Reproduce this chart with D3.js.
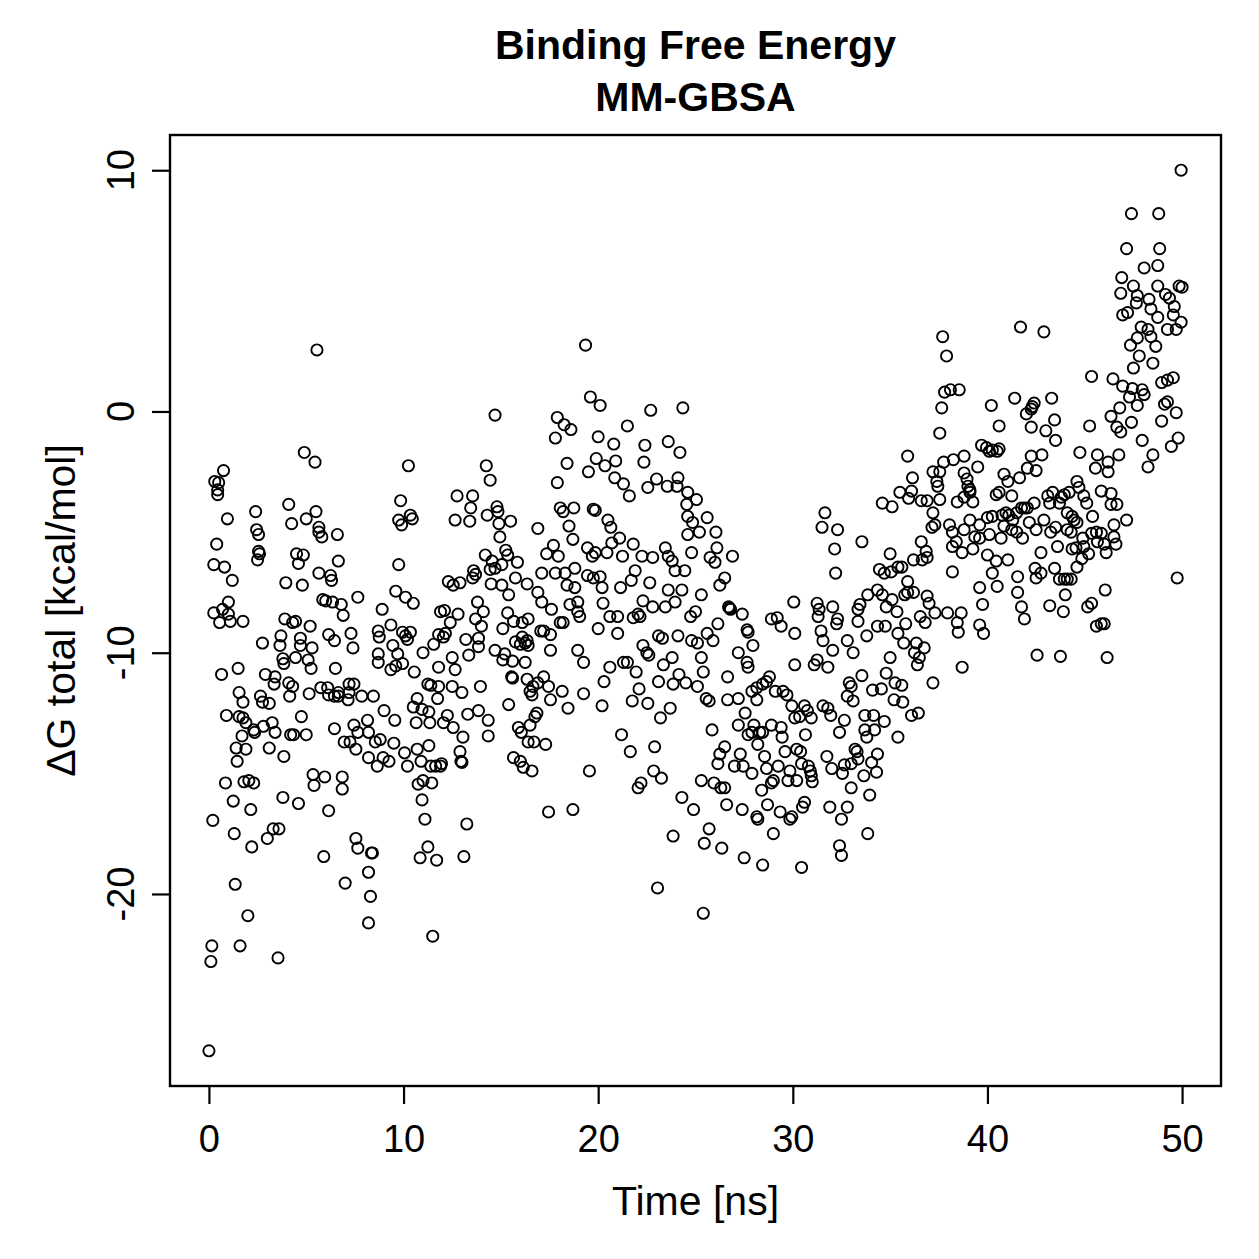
<!DOCTYPE html>
<html>
<head>
<meta charset="utf-8">
<script src="https://cdn.jsdelivr.net/npm/d3@7"></script>
<style>
  html, body { margin: 0; padding: 0; background: #fff; }
  text { font-family: "Liberation Sans", Arial, Helvetica, sans-serif; fill: #000; }
</style>
</head>
<body>
<div id="chart"></div>
<script>
// MM-GBSA: ΔG total pro Frame über die Simulationszeit (Streudiagramm, offene Kreise)

const TITLE_LINES = ["Binding Free Energy", "MM-GBSA"];
const X_LABEL = "Time [ns]";
const Y_LABEL = "ΔG total [kcal/mol]";
const X_TICKS = [0, 10, 20, 30, 40, 50];
const Y_TICKS = [-20, -10, 0, 10];

// [Zeit (ns), ΔG (kcal/mol)]
const frames0to8 = [
  [0.25,-6.35],[0.8,-6.45],[1.2,-7.0],[2.5,-6.15],[4.6,-6.3],[6.65,-6.2],[3.95,-7.1],[4.8,-7.2],[5.65,-6.7],[6.25,-6.8],
  [6.3,-7.0],[1.0,-7.9],[0.25,-8.35],[0.7,-8.2],[1.0,-8.4],[0.55,-8.75],[1.1,-8.7],[1.75,-8.7],[5.85,-7.8],[6.0,-7.85],
  [6.35,-7.9],[6.8,-8.0],[6.9,-8.45],[7.65,-7.7],[3.9,-8.6],[4.3,-8.75],[4.45,-8.7],[5.2,-8.9],[2.75,-9.6],[3.7,-9.3],
  [3.65,-9.7],[4.7,-9.4],[4.7,-9.7],[5.3,-9.8],[4.45,-10.2],[3.8,-10.25],[3.85,-10.45],[5.1,-10.3],[5.25,-10.65],[6.15,-9.25],
  [6.45,-9.5],[7.3,-9.2],[7.4,-9.8],[6.5,-10.65],[0.65,-10.9],[1.5,-10.65],[2.9,-10.9],[3.4,-11.0],[3.35,-11.3],[1.55,-11.65],
  [1.75,-12.05],[2.65,-11.8],[2.75,-12.05],[3.1,-12.1],[4.1,-11.25],[4.3,-11.4],[4.15,-11.8],[5.15,-11.7],[5.75,-11.45],[6.1,-11.45],
  [6.15,-11.75],[6.45,-11.8],[6.65,-11.8],[7.2,-11.3],[7.45,-11.3],[7.2,-11.65],[7.15,-11.95],[6.65,-11.65],[0.9,-12.6],[1.55,-12.65],
  [1.75,-12.7],[1.9,-12.9],[2.3,-13.2],[2.35,-13.3],[1.7,-13.45],[1.4,-13.95],[1.9,-14.0],[1.45,-14.5],[2.8,-13.05],[3.25,-12.9],
  [3.4,-13.3],[3.1,-13.95],[3.85,-14.3],[4.2,-13.4],[4.35,-13.4],[5.0,-13.4],[4.75,-12.65],[6.45,-13.15],[6.95,-13.7],[7.25,-13.7],
  [7.45,-13.0],[7.65,-13.3],[7.55,-14.0],[0.85,-15.4],[1.8,-15.35],[2.05,-15.3],[2.3,-15.4],[1.25,-16.15],[2.15,-16.5],[0.2,-16.95],
  [1.3,-17.5],[2.2,-18.05],[3.8,-16.0],[4.6,-16.25],[3.0,-17.7],[3.3,-17.3],[3.6,-17.3],[5.35,-15.05],[5.4,-15.5],[5.95,-15.15],
  [6.85,-15.15],[6.85,-15.65],[6.15,-16.55],[5.9,-18.45],[7.0,-19.55],[7.55,-17.7],[7.65,-18.1],[1.35,-19.6],[2.0,-20.9],[0.15,-22.15],
  [0.1,-22.8],[1.6,-22.15],[3.55,-22.65],[0.0,-26.5],
  [5.55,2.55],[4.9,-1.7],[5.45,-2.1],[0.75,-2.45],[0.3,-2.9],[0.5,-2.95],[0.45,-3.25],[0.45,-3.45],[0.95,-4.45],[2.4,-4.15],
  [4.1,-3.85],[4.25,-4.65],[5.0,-4.45],[5.5,-4.15],[5.65,-4.8],[5.65,-5.0],[5.8,-5.2],[6.6,-5.1],[2.45,-4.9],[2.55,-5.1],
  [0.4,-5.5],[2.55,-5.8],[2.6,-5.9],[4.5,-5.9],[4.85,-5.95]
];

const frames8to16 = [
  [14.7,-0.15],[10.25,-2.25],[14.25,-2.25],[14.45,-2.85],[9.85,-3.7],[9.75,-4.5],[9.9,-4.7],[10.35,-4.3],[10.45,-4.45],[12.75,-3.5],
  [13.55,-3.5],[13.45,-4.0],[12.65,-4.5],[13.4,-4.55],[14.3,-4.3],[14.8,-3.95],[14.85,-4.15],[14.9,-4.65],[15.5,-4.55],[14.95,-5.2],
  [14.2,-5.95],[14.55,-6.2],[15.25,-5.75],[15.35,-5.95],[15.85,-6.25],[9.75,-6.35],[13.6,-6.6],
  [12.3,-7.05],[12.55,-7.2],[12.9,-7.1],[13.55,-6.9],[13.7,-6.75],[14.45,-6.55],[14.7,-6.5],[15.05,-6.35],[14.5,-7.15],[15.05,-7.2],
  [15.4,-7.6],[15.75,-6.9],[16.35,-7.15],[9.6,-7.45],[10.1,-7.7],[10.5,-7.95],[8.9,-8.2],[11.9,-8.3],[12.1,-8.25],[12.8,-8.4],
  [12.4,-8.75],[13.8,-7.9],[14.1,-8.3],[13.7,-8.6],[14.0,-8.9],[15.35,-8.35],[15.65,-8.7],[15.1,-9.0],[16.1,-8.75],[9.35,-8.85],
  [8.7,-9.1],[8.75,-9.35],[9.45,-9.7],[9.95,-9.15],[10.2,-9.45],[10.35,-9.15],[10.1,-9.3],[9.7,-10.05],[8.7,-10.05],[8.7,-10.4],
  [9.35,-10.7],[9.6,-10.55],[9.95,-10.45],[10.55,-10.8],[11.0,-10.0],[11.55,-9.65],[11.8,-9.25],[12.05,-9.35],[12.15,-9.2],[11.8,-10.6],
  [12.5,-10.2],[12.65,-10.7],[13.2,-9.45],[13.35,-10.1],[13.85,-9.75],[13.85,-9.4],[14.7,-9.9],[15.1,-10.3],[15.2,-10.05],[15.6,-10.35],
  [15.55,-11.0],[15.6,-11.05],[15.75,-9.55],[16.0,-9.65],[16.25,-9.6],[16.1,-9.35],[16.25,-10.4],[7.85,-11.8],[8.45,-11.8],[9.0,-12.4],
  [9.55,-12.8],[8.15,-12.8],[8.2,-13.3],[8.55,-13.7],[8.8,-13.6],[9.25,-14.5],[9.5,-13.75],[8.95,-14.35],[8.65,-14.7],[8.2,-14.35],
  [10.7,-11.9],[10.5,-12.25],[10.95,-12.35],[11.3,-12.45],[11.35,-12.9],[10.65,-12.9],[11.75,-11.9],[11.8,-11.4],[11.4,-11.35],[11.25,-11.3],
  [12.05,-12.9],[12.25,-12.6],[12.55,-13.1],[13.05,-13.5],[12.5,-11.4],[13.0,-11.65],[13.3,-12.55],[13.85,-12.4],[14.35,-12.8],[14.35,-13.45],
  [13.95,-11.4],[15.4,-12.15],[15.9,-13.1],[16.05,-13.3],[16.4,-13.7],[12.9,-14.1],[12.95,-14.5],[13.0,-14.55],[10.05,-14.15],[10.7,-14.0],
  [11.3,-13.85],[10.9,-14.5],[10.2,-14.7],[11.4,-14.7],[11.65,-14.7],[11.9,-14.7],[11.95,-14.6],[10.75,-15.45],[11.0,-15.3],[11.45,-15.4],
  [10.95,-16.1],[15.65,-14.35],[16.0,-14.5],[16.15,-14.75],[11.1,-16.9],[13.25,-17.1],[8.35,-18.3],[8.4,-18.3],[10.85,-18.5],[11.25,-18.05],
  [11.7,-18.6],[13.1,-18.45],[8.2,-19.1],[8.3,-20.1],[8.2,-21.2],[11.5,-21.75]
];

const frames16to25 = [
  [19.35,2.75],[19.6,0.6],[20.1,0.25],[22.7,0.05],[24.35,0.15],[17.9,-0.25],[18.25,-0.55],[18.6,-0.75],[17.8,-1.1],[20.0,-1.05],
  [20.8,-1.35],[21.5,-0.6],[22.4,-1.4],[23.6,-1.25],[24.2,-1.7],[18.4,-2.15],[19.5,-2.5],[19.9,-1.95],[20.35,-2.25],[20.9,-2.05],
  [22.35,-2.1],[17.9,-2.95],[20.85,-2.75],[21.3,-3.0],[21.6,-3.5],[22.55,-3.15],[23.0,-2.8],[23.55,-3.1],[24.1,-2.75],[24.05,-3.1],
  [24.6,-3.35],[25.05,-3.65],[24.55,-3.85],[24.6,-4.35],[24.85,-4.6],[24.6,-5.1],[16.9,-4.85],[18.05,-4.0],[18.2,-4.15],[18.75,-4.0],
  [19.75,-4.05],[19.85,-4.1],[20.5,-4.5],[20.65,-4.8],[18.5,-4.75],[18.7,-5.3],[17.7,-5.55],[17.35,-5.9],[17.95,-6.0],[19.45,-5.65],
  [19.7,-6.0],[19.85,-5.85],[20.45,-5.85],[20.7,-5.45],[21.1,-5.25],[21.25,-6.0],[21.8,-5.5],[22.25,-6.0],[22.8,-6.05],[23.45,-5.65],
  [23.6,-6.0],[23.8,-6.2],[24.8,-5.85],
  [17.45,-16.6],[18.7,-16.5],[19.55,-14.9],[16.6,-14.9],[16.7,-13.7],[17.3,-13.8],[21.2,-13.4],[21.65,-14.1],[22.9,-13.9],[22.85,-14.9],
  [23.25,-15.2],[22.05,-15.6],[22.2,-15.4],[23.85,-17.6],[24.3,-16.0],[24.9,-16.5],[23.05,-19.75],[23.7,-12.3],[23.2,-12.7],[20.2,-12.2],
  [18.45,-12.3],[19.25,-11.7],[20.3,-11.2],[21.75,-12.0],[22.55,-12.1],[22.1,-11.5],[23.1,-11.2],[23.85,-11.3],[24.5,-11.25],[24.15,-10.9],
  [17.55,-9.9],[18.95,-9.9],[19.25,-10.4],[20.6,-10.6],[21.3,-10.4],[21.5,-10.4],[21.95,-10.8],[22.3,-9.7],[22.5,-10.0],[22.6,-10.1],
  [23.35,-10.5],[23.8,-10.2],[23.1,-9.3],[23.3,-9.4],[24.1,-9.3],[24.8,-9.5],[24.75,-8.5],[23.45,-8.1],[23.95,-7.9],[24.3,-7.4],
  [23.6,-7.4],[22.8,-8.1],[22.3,-7.85],[22.05,-8.4],[21.8,-8.55],[22.15,-8.5],[21.0,-9.2],[20.25,-7.95],[20.6,-8.5],[21.0,-8.5],
  [20.0,-9.0],[21.15,-7.3],[21.7,-7.0],[21.9,-6.6],[22.65,-7.1],[23.95,-6.6],[24.45,-6.6],[17.1,-6.7],[17.8,-6.7],[18.3,-6.7],
  [18.8,-6.5],[19.45,-6.8],[19.75,-6.9],[20.1,-6.85],[20.2,-7.3],[18.8,-7.3],[18.4,-7.2],[16.9,-7.5],[17.1,-7.9],[17.6,-8.2],
  [18.55,-8.0],[18.95,-7.9],[19.05,-8.5],[18.95,-8.3],[18.05,-8.75],[18.2,-8.75],[16.4,-8.6],[17.05,-9.1],[17.2,-9.1],[17.55,-9.25],
  [16.35,-9.5],[16.4,-9.7],[16.35,-11.1],[16.65,-11.4],[16.9,-11.25],[17.2,-11.0],[17.45,-11.4],[16.6,-11.75],[16.5,-11.6],[17.55,-11.95],
  [18.15,-11.6],[16.85,-12.5],[16.75,-12.65],[16.5,-13.0]
];

const frames25to34 = [
  [25.6,-4.4],[25.2,-5.0],[26.05,-5.0],[26.1,-5.65],[25.75,-6.05],[26.0,-6.25],[26.9,-6.0],[26.5,-6.9],[26.25,-7.2],[25.3,-7.6],
  [31.65,-4.2],[31.5,-4.8],[32.3,-4.9],[32.15,-5.7],[32.2,-6.7],[33.55,-5.4],
  [25.0,-8.3],[26.7,-8.1],[26.75,-8.15],[26.8,-8.2],[27.4,-8.4],[26.15,-8.8],[25.6,-9.2],[25.9,-9.5],[25.1,-9.6],[25.3,-10.2],
  [25.4,-10.8],[25.1,-11.4],[25.55,-11.9],[25.7,-12.0],[26.65,-11.0],[26.65,-11.95],[27.2,-11.9],[27.2,-10.0],[27.65,-9.05],[27.7,-9.15],
  [27.95,-9.7],[27.65,-10.4],[27.7,-10.6],[27.55,-12.5],[27.2,-13.0],[25.85,-13.2],[26.5,-13.9],[26.25,-14.2],[26.15,-14.6],[25.3,-15.3],
  [25.95,-15.4],[26.3,-15.6],[26.5,-15.6],[26.6,-16.3],[27.4,-16.5],[25.7,-17.3],[25.45,-17.9],[26.35,-18.1],[27.5,-18.5],[28.45,-18.8],
  [30.45,-18.9],[25.4,-20.8],[27.3,-14.2],[27.0,-14.7],[27.45,-14.7],[27.9,-15.0],[28.4,-15.7],[28.9,-15.4],[29.0,-15.3],[28.7,-16.3],
  [29.35,-16.6],[28.2,-16.9],[28.15,-16.8],[29.0,-17.5],[29.85,-16.9],[29.95,-16.8],[30.5,-16.4],[30.6,-16.2],[31.9,-16.4],[32.8,-16.4],
  [32.5,-16.9],[32.4,-18.0],[32.5,-18.4],[33.85,-17.5],[33.0,-15.6],[33.65,-15.1],[33.95,-15.9],[28.0,-13.0],[27.7,-13.4],[27.9,-13.3],
  [28.3,-13.3],[28.45,-13.3],[28.9,-13.0],[29.4,-13.1],[29.45,-13.5],[28.2,-13.8],[28.55,-14.3],[29.6,-14.1],[30.2,-14.0],[30.4,-14.1],
  [30.65,-13.4],[28.65,-14.8],[29.25,-14.7],[29.75,-15.3],[29.85,-14.9],[30.2,-15.3],[30.45,-14.6],[30.8,-14.7],[30.9,-14.9],[30.95,-15.1],
  [31.0,-15.35],[31.75,-14.3],[32.0,-14.8],[32.55,-15.0],[32.65,-14.65],[33.0,-14.6],[33.3,-14.1],[33.35,-14.4],[28.15,-11.45],[28.45,-11.3],
  [28.65,-11.2],[28.8,-11.0],[27.9,-11.6],[28.15,-11.95],[29.1,-11.6],[29.5,-11.6],[29.7,-11.75],[29.95,-12.2],[30.1,-12.7],[30.35,-12.65],
  [30.6,-12.2],[30.75,-12.4],[30.95,-12.7],[28.9,-8.6],[29.2,-8.55],[29.4,-8.9],[30.1,-9.2],[30.05,-7.9],[30.1,-10.5],[31.25,-7.95],
  [31.35,-8.2],[31.3,-8.5],[32.05,-8.1],[31.45,-9.1],[31.55,-9.5],[31.25,-10.3],[31.1,-10.5],[31.8,-10.6],[32.05,-9.9],[32.25,-8.8],
  [32.3,-8.6],[32.8,-9.5],[33.1,-10.0],[33.35,-8.2],[33.45,-8.0],[33.35,-8.7],[33.8,-9.3],[32.9,-11.25],[33.0,-11.4],[32.8,-11.8],
  [33.1,-12.0],[33.55,-10.95],[31.55,-12.2],[31.8,-12.3],[31.95,-12.6],[32.65,-12.8],[32.4,-13.3],[33.7,-12.6],[33.7,-13.2],[33.8,-13.5],
  [33.2,-14.0]
];

const frames34to43 = [
  [37.7,3.1],[37.9,2.3],[41.7,3.5],[37.8,0.8],[38.1,0.9],[38.55,0.9],[37.65,0.15],[37.55,-0.9],[40.2,0.25],[41.4,0.55],
  [42.0,-0.1],[42.25,0.1],[42.3,0.2],[42.4,0.35],[40.6,-0.6],[42.25,-0.65],[39.7,-1.4],[39.95,-1.5],[40.1,-1.65],[40.25,-1.6],
  [40.5,-1.65],[40.6,-1.55],[35.9,-1.85],[42.25,-1.85],[37.75,-2.1],[38.25,-2.0],[38.8,-1.85],[39.5,-2.3],[37.2,-2.5],[37.55,-2.5],
  [36.15,-2.75],[38.8,-2.55],[38.95,-2.8],[39.0,-3.1],[39.1,-3.25],[39.1,-3.35],[40.85,-2.6],[41.05,-2.9],[41.65,-2.75],[42.05,-2.35],
  [42.5,-2.45],[37.4,-2.9],[37.45,-3.1],[37.55,-3.65],[35.5,-3.35],[36.1,-3.3],[35.95,-3.6],[36.6,-3.7],[36.9,-3.7],[34.6,-3.8],
  [35.1,-3.95],[38.45,-3.75],[38.8,-3.55],[39.25,-3.75],[40.45,-3.45],[40.6,-3.35],[41.25,-3.5],[42.4,-3.8],[41.9,-4.0],[37.2,-4.2],
  [37.15,-4.8],[37.3,-4.7],[38.05,-4.7],[38.2,-5.0],[38.2,-5.6],[38.4,-5.4],[38.8,-4.9],[39.1,-4.5],[39.6,-4.7],[40.0,-4.4],
  [40.25,-4.35],[39.35,-5.2],[39.6,-5.25],[40.1,-5.1],[40.75,-4.3],[40.95,-4.2],[41.1,-4.3],[41.3,-4.5],[41.5,-4.2],[41.75,-4.0],
  [42.05,-4.0],[40.85,-4.75],[41.25,-4.9],[41.5,-5.0],[41.8,-5.25],[40.7,-5.25],[42.15,-4.6],[42.5,-4.9],[36.6,-5.4],[36.85,-5.8],
  [36.9,-6.05],[36.65,-6.15],[36.2,-6.15],[35.0,-5.9],[34.45,-6.55],[34.7,-6.7],[35.05,-6.65],[35.4,-6.45],[35.6,-6.45],[35.9,-7.05],
  [35.9,-7.5],[36.2,-7.5],[35.75,-7.6],[38.2,-6.65],[38.7,-5.85],[39.25,-5.7],[40.0,-5.95],[40.45,-6.2],[41.05,-6.15],[40.25,-6.7],
  [40.5,-7.25],[39.6,-7.3],[41.55,-6.85],[42.45,-6.5],[42.5,-6.9],[41.55,-7.5],[33.85,-7.6],[34.35,-7.4],[34.6,-7.6],[36.9,-7.65],
  [34.8,-8.1],[35.35,-8.3],[37.0,-7.95],[37.3,-8.35],[37.95,-8.35],[38.65,-8.35],[41.75,-8.1],[41.9,-8.6],[39.75,-8.0],[35.1,-7.8],
  [36.55,-8.5],[36.8,-8.75],[38.45,-8.75],[38.5,-9.15],[39.6,-8.85],[39.8,-9.2],[34.35,-8.9],[34.75,-8.9],[35.4,-9.2],[35.8,-8.8],
  [35.7,-9.6],[36.35,-9.6],[36.75,-9.8],[36.25,-10.0],[36.5,-10.2],[36.4,-10.5],[35.0,-10.2],[38.7,-10.6],[42.55,-10.1],[37.2,-11.25],
  [34.8,-10.85],[35.25,-11.25],[35.6,-11.35],[34.55,-11.5],[34.1,-11.55],[35.2,-11.95],[35.65,-12.05],[36.1,-12.6],[36.45,-12.5],[34.15,-12.6],
  [34.7,-12.85],[34.2,-13.2],[35.4,-13.5],[34.35,-14.2],[34.05,-14.55],[34.3,-14.95]
];

const frames43to50 = [
  [49.95,10.0],[47.4,8.2],[48.8,8.2],[47.15,6.75],[48.85,6.75],[48.05,5.95],[48.75,6.05],[46.9,5.55],[46.85,4.9],[47.5,5.2],
  [47.7,4.8],[47.65,4.5],[46.95,4.0],[47.2,4.1],[48.3,4.65],[48.4,4.25],[48.75,5.2],[49.15,4.85],[49.35,4.7],[49.85,5.2],
  [50.0,5.15],[49.6,4.35],[49.55,4.0],[49.95,3.7],[49.7,3.4],[49.25,3.4],[48.75,3.9],[47.9,3.5],[48.25,3.4],[47.7,3.05],
  [48.4,3.1],[48.65,2.7],[47.35,2.75],[47.8,2.3],[47.5,1.8],[48.5,2.0],[42.9,3.3],[45.35,1.45],[46.45,1.35],[46.95,1.05],
  [47.45,0.95],[47.95,0.9],[48.05,0.7],[47.7,0.25],[47.3,0.6],[46.8,0.15],[46.35,-0.2],[48.95,1.2],[49.25,1.3],[49.55,1.4],
  [49.25,0.4],[49.1,0.3],[49.7,-0.05],[46.65,-0.65],[46.85,-0.85],[47.4,-0.45],[48.95,-0.4],[45.25,-0.6],[43.3,0.55],[43.45,-0.35],
  [43.0,-0.8],[43.5,-1.2],[42.8,-1.8],[47.95,-1.2],[48.5,-1.8],[48.25,-2.3],[49.8,-1.1],[49.45,-1.45],[44.75,-1.7],[45.65,-1.8],
  [46.2,-2.1],[46.75,-1.8],[45.55,-2.35],[46.2,-2.5],[44.6,-2.9],
  [44.7,-3.15],[44.2,-3.35],[44.95,-3.5],[45.1,-3.8],[45.85,-3.3],[46.35,-3.4],[46.35,-3.85],[46.65,-3.85],[47.15,-4.5],[46.5,-4.7],
  [43.1,-3.5],[43.35,-3.35],[43.8,-3.55],[43.95,-3.45],[43.2,-3.8],[43.7,-3.8],[44.1,-4.2],[44.35,-4.35],[44.45,-4.5],[44.6,-4.6],
  [45.4,-4.35],[42.9,-4.5],[43.25,-5.0],[43.5,-4.8],[44.1,-4.9],[44.3,-5.0],[44.9,-5.25],[45.35,-5.05],[45.6,-5.0],[45.85,-5.05],
  [45.65,-5.4],[46.0,-5.5],[46.5,-5.2],[46.6,-5.5],[46.1,-5.85],[43.6,-5.6],[44.35,-5.7],[44.55,-5.65],[44.95,-5.6],[45.2,-5.9],
  [44.85,-6.1],[44.6,-6.45],[42.75,-5.85],[42.75,-6.7],[43.45,-6.5],[43.7,-6.95],[43.95,-6.95],[44.1,-6.95],[44.3,-6.95],[44.0,-7.6],
  [46.05,-7.4],[49.75,-6.9],[43.2,-8.05],[43.9,-8.3],[45.15,-8.1],[45.35,-7.95],[45.6,-8.9],[45.85,-8.8],[46.0,-8.8],[43.75,-10.15],
  [46.15,-10.2]
];

const frames = [].concat(frames0to8, frames8to16, frames16to25, frames25to34, frames34to43, frames43to50);

// Layout (Pixel, wie R-Plot)
const W = 1259, H = 1259;
const PLOT = { left: 170, right: 1221, top: 135, bottom: 1086 };
const TICK_FONT = 38;
const LABEL_FONT = 41;
const TITLE_FONT = 41;
const TICK_LEN = 18;

const svg = d3.select("#chart").append("svg")
  .attr("width", W)
  .attr("height", H)
  .style("display", "block");

svg.append("rect").attr("width", W).attr("height", H).attr("fill", "#fff");

// R-typisch: Achsenbereich um 4 % erweitert
function padded(ext) {
  const p = (ext[1] - ext[0]) * 0.04;
  return [ext[0] - p, ext[1] + p];
}

const x = d3.scaleLinear()
  .domain(padded(d3.extent(frames, d => d[0])))
  .range([PLOT.left, PLOT.right]);

const y = d3.scaleLinear()
  .domain(padded(d3.extent(frames, d => d[1])))
  .range([PLOT.bottom, PLOT.top]);

// Punkte (offene Kreise, pch = 1)
svg.append("g")
  .selectAll("circle")
  .data(frames)
  .join("circle")
  .attr("cx", d => x(d[0]))
  .attr("cy", d => y(d[1]))
  .attr("r", 5.6)
  .attr("fill", "none")
  .attr("stroke", "#000")
  .attr("stroke-width", 1.9);

// Rahmen
svg.append("rect")
  .attr("x", PLOT.left)
  .attr("y", PLOT.top)
  .attr("width", PLOT.right - PLOT.left)
  .attr("height", PLOT.bottom - PLOT.top)
  .attr("fill", "none")
  .attr("stroke", "#000")
  .attr("stroke-width", 2.4);

// x-Achse
const xAxis = svg.append("g")
  .attr("transform", `translate(0, ${PLOT.bottom})`)
  .call(d3.axisBottom(x).tickValues(X_TICKS).tickSize(TICK_LEN).tickSizeOuter(0).tickPadding(21));
xAxis.select(".domain").remove();
xAxis.selectAll(".tick line").attr("stroke", "#000").attr("stroke-width", 2.2);
xAxis.selectAll(".tick text")
  .attr("fill", "#000")
  .style("font-size", TICK_FONT + "px")
  .style("font-family", "'Liberation Sans', Arial, sans-serif");

// y-Achse (Beschriftung senkrecht wie in R)
const yAxis = svg.append("g")
  .attr("transform", `translate(${PLOT.left}, 0)`)
  .call(d3.axisLeft(y).tickValues(Y_TICKS).tickSize(TICK_LEN).tickSizeOuter(0).tickFormat(""));
yAxis.select(".domain").remove();
yAxis.selectAll(".tick line").attr("stroke", "#000").attr("stroke-width", 2.2);

svg.append("g")
  .selectAll("text")
  .data(Y_TICKS)
  .join("text")
  .attr("transform", d => `translate(134, ${y(d)}) rotate(-90)`)
  .attr("text-anchor", "middle")
  .style("font-size", TICK_FONT + "px")
  .text(d => d);

// Achsentitel
svg.append("text")
  .attr("x", (PLOT.left + PLOT.right) / 2)
  .attr("y", 1215)
  .attr("text-anchor", "middle")
  .style("font-size", LABEL_FONT + "px")
  .text(X_LABEL);

svg.append("text")
  .attr("transform", `translate(75, ${(PLOT.top + PLOT.bottom) / 2}) rotate(-90)`)
  .attr("text-anchor", "middle")
  .style("font-size", LABEL_FONT + "px")
  .text(Y_LABEL);

// Titel, zweizeilig, fett
svg.append("g")
  .selectAll("text")
  .data(TITLE_LINES)
  .join("text")
  .attr("x", (PLOT.left + PLOT.right) / 2)
  .attr("y", (d, i) => 59 + i * 52)
  .attr("text-anchor", "middle")
  .style("font-size", TITLE_FONT + "px")
  .style("font-weight", "bold")
  .text(d => d);
</script>
</body>
</html>
